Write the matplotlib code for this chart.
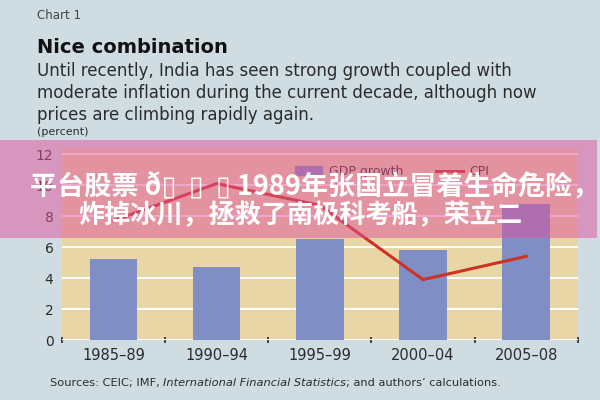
import matplotlib.pyplot as plt
import numpy as np
from matplotlib.patches import Rectangle
from matplotlib.lines import Line2D

# --- données ---
periodes = ["1985\u201389", "1990\u201394", "1995\u201399", "2000\u201304", "2005\u201308"]
gdp_growth = [5.2, 4.7, 6.5, 5.8, 8.8]
cpi = [7.7, 10.1, 8.7, 3.9, 5.4]
y_ticks = [0, 2, 4, 6, 8, 10, 12]

# couleurs
FOND = '#cfdde3'
BEIGE = '#e8d6a6'
BARRE = '#7f8ec4'
ROUGE = '#cc3322'
TEXTE = '#2b2b2b'

fig = plt.figure(figsize=(6, 4), dpi=100, facecolor=FOND)
ax = fig.add_axes([0.103, 0.15, 0.86, 0.48])
ax.set_facecolor(BEIGE)

x = np.arange(len(periodes))
ax.bar(x, gdp_growth, width=0.46, color=BARRE, zorder=3)
ax.plot(x, cpi, color=ROUGE, linewidth=2.2, zorder=4)

ax.set_xlim(-0.5, len(periodes) - 0.5)
ax.set_ylim(0, 12.4)
ax.set_yticks(y_ticks)
ax.set_xticks(x)
ax.set_xticklabels(periodes)
ax.set_xticks(np.arange(-0.5, len(periodes)), minor=True)
ax.grid(axis='y', color='white', linewidth=1.4, zorder=1)
for s in ax.spines.values():
    s.set_visible(False)
ax.tick_params(axis='y', length=0, pad=6, labelsize=10, labelcolor=TEXTE)
ax.tick_params(axis='x', which='major', length=0, pad=6, labelsize=10.5, labelcolor=TEXTE)
ax.tick_params(axis='x', which='minor', length=4, width=1.2, direction='inout', color=TEXTE)

# légende
handles = [Rectangle((0, 0), 1, 1, color=BARRE),
           Line2D([0], [0], color=ROUGE, linewidth=2.2)]
ax.legend(handles, ['GDP growth', 'CPI'], loc='upper center', bbox_to_anchor=(0.64, 0.97),
          ncol=2, frameon=False, fontsize=9, handlelength=2.2, handletextpad=0.5,
          columnspacing=2.6, labelcolor=TEXTE)

# titres
fig.text(0.062, 0.952, "Chart 1", fontsize=8.5, color='#444444')
fig.text(0.062, 0.868, "Nice combination", fontsize=14, fontweight='bold', color='#111111')
fig.text(0.062, 0.70,
         "Until recently, India has seen strong growth coupled with\n"
         "moderate inflation during the current decade, although now\n"
         "prices are climbing rapidly again.",
         fontsize=12, color=TEXTE, linespacing=1.3)
fig.text(0.062, 0.662, "(percent)", fontsize=8, color=TEXTE)

# source : partie italique au milieu
src = fig.text(0.083, 0.035, "Sources: CEIC; IMF, ", fontsize=8.2, color=TEXTE)
fig.canvas.draw()
r = fig.canvas.get_renderer()
bb = src.get_window_extent(r)
t2 = fig.text(bb.x1 / fig.bbox.width, 0.035, "International Financial Statistics",
              fontsize=8.2, color=TEXTE, style='italic')
bb2 = t2.get_window_extent(r)
fig.text(bb2.x1 / fig.bbox.width, 0.035, "; and authors\u2019 calculations.",
         fontsize=8.2, color=TEXTE)

# bandeau rose par-dessus
fig.patches.append(Rectangle((0, 0.405), 0.995, 0.245, transform=fig.transFigure,
                             facecolor='#e0509a', alpha=0.5, edgecolor='none', zorder=10))
cjk = ['Noto Sans CJK SC', 'DejaVu Sans']
fig.text(0.524, 0.535, "平台股票 ð▯  ▯  ▯ 1989年张国立冒着生命危险，", family=cjk,
         fontsize=19.5, fontweight='bold', color='white', ha='center', va='center', zorder=11)
fig.text(0.5, 0.462, "炸掉冰川，拯救了南极科考船，荣立二", family=cjk,
         fontsize=18.8, fontweight='bold', color='white', ha='center', va='center', zorder=11)

fig.savefig('out.png', dpi=100, facecolor=FOND)
